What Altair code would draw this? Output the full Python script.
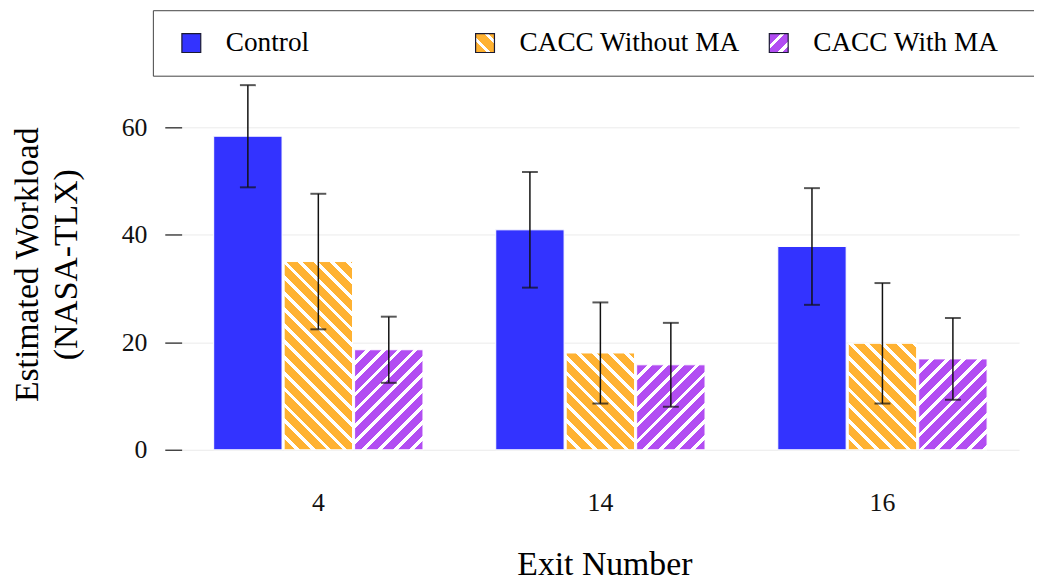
import json
import altair as alt
import pandas as pd

# ---------------- data ----------------
exits = ["4", "14", "16"]
series = ["Control", "CACC Without MA", "CACC With MA"]
control_mean = [58.3, 40.9, 37.8]
control_err = [9.5, 10.75, 10.85]
without_mean = [35.0, 18.0, 19.8]
without_err = [12.6, 9.4, 11.2]
with_mean = [18.6, 15.8, 16.9]
with_err = [6.15, 7.8, 7.6]
y_ticks = [0, 20, 40, 60]

# ---------------- styles ----------------
BLUE, ORANGE, PURPLE = "#3333FF", "#FFB232", "#B24DF2"
WHITE = "#FFFFFF"
FONT = "Liberation Serif"
PLOT_W, PLOT_H, Y_MAX = 844, 374, 69
PAD_INNER, PAD_OUTER, SUB_PAD = 0.258, 0.1136, 0.03
HATCH_PERIOD, HATCH_WHITE = 16.0, 0.3
SYM = 19
TITLE_SIZE = 34

means = [control_mean, without_mean, with_mean]
errs = [control_err, without_err, with_err]
rows = []
for s, m_list, e_list in zip(series, means, errs):
    for e, m, er in zip(exits, m_list, e_list):
        rows.append({"exit": e, "series": s, "mean": m, "lo": m - er, "hi": m + er})
df = pd.DataFrame(rows)

# pixel size of one bar (used only to orient the hatching gradient)
step = PLOT_W / (len(exits) - PAD_INNER + 2 * PAD_OUTER)
band = step * (1 - PAD_INNER)
sub_step = band / (len(series) - SUB_PAD)
bar_w = sub_step * (1 - SUB_PAD)


def hatch(color, w, h, direction):
    total = w + h
    pts = []
    k = 0
    while k * HATCH_PERIOD < total:
        a = k * HATCH_PERIOD
        b = a + HATCH_PERIOD * (1 - HATCH_WHITE)
        c = a + HATCH_PERIOD
        pts += [(a, color), (min(b, total), color)]
        if b < total:
            pts += [(b, WHITE), (min(c, total), WHITE)]
        k += 1
    stops = [{"offset": round(s / total, 5), "color": col} for s, col in pts]
    kk = (w + h) / (w * w + h * h)
    if direction == "/":
        x1, y1, x2, y2 = 0, 0, kk * w, kk * h
    else:
        x1, y1, x2, y2 = 0, 1, kk * w, 1 - kk * h
    return {"gradient": "linear", "x1": round(x1, 5), "y1": round(y1, 5),
            "x2": round(x2, 5), "y2": round(y2, 5), "stops": stops}


hatch_info = {series[1]: (ORANGE, "\\"), series[2]: (PURPLE, "/")}
conds = []
for s in series[1:]:
    col, d = hatch_info[s]
    for e, m in zip(exits, df[df.series == s]["mean"]):
        h = m / Y_MAX * PLOT_H
        conds.append({"test": f"datum.series === '{s}' && datum.exit === '{e}'",
                      "value": hatch(col, bar_w, h, d)})

legend_range = [BLUE] + [
    {"expr": json.dumps(hatch(hatch_info[s][0], SYM, SYM, hatch_info[s][1]))}
    for s in series[1:]
]

x_enc = alt.X(
    "exit:N", sort=exits,
    scale=alt.Scale(paddingInner=PAD_INNER, paddingOuter=PAD_OUTER),
    axis=alt.Axis(labelAngle=0, labelFont=FONT, labelFontSize=26, labelColor="#111",
                  labelPadding=40, ticks=False, tickSize=0, domain=False, grid=False,
                  title="Exit Number", titleFont=FONT, titleFontSize=TITLE_SIZE,
                  titleFontWeight="normal", titleColor="#000", titleY=99,
                  titleX=PLOT_W / 2 + 4),
)
xo_enc = alt.XOffset("series:N", sort=series,
                     scale=alt.Scale(paddingInner=SUB_PAD, paddingOuter=0))
y_scale = alt.Scale(domain=[0, Y_MAX], nice=False)
y_enc = alt.Y(
    "mean:Q", scale=y_scale,
    axis=alt.Axis(values=y_ticks, labelFont=FONT, labelFontSize=26, labelColor="#111",
                  labelPadding=18, tickSize=17, tickColor="#444", tickWidth=1.5,
                  domain=False, grid=True, gridColor="#EBEBEB", gridWidth=1,
                  title=["Estimated Workload", "(NASA-TLX)"], titleFont=FONT,
                  titleFontSize=TITLE_SIZE, titleFontWeight="normal", titleColor="#000",
                  titleLineHeight=39, titleX=-138, titleY=PLOT_H / 2,
                  titleAngle=270, titleBaseline="bottom", titleAlign="center"),
)

base = alt.Chart(df)

# The legend carries a short white (invisible) filler title on its right, so that
# its frame runs on past the right edge of the picture, as in the reference.
legend_layer = base.transform_filter("false").mark_bar().encode(
    x=x_enc, xOffset=xo_enc, y=y_enc,
    fill=alt.Fill(
        "series:N",
        scale=alt.Scale(domain=series, range=legend_range),
        legend=alt.Legend(
            title="MM", titleOrient="right", titleColor="white",
            titleFont=FONT, titleFontSize=18, titlePadding=6,
            orient="none", legendX=-29, legendY=-69,
            direction="horizontal", columns=3, gridAlign="all", columnPadding=19,
            padding=19, strokeColor="#444", fillColor="white",
            symbolType="square", symbolSize=SYM * SYM, symbolStrokeColor="#1a1a33",
            symbolStrokeWidth=1.2, symbolOffset=6, labelOffset=21,
            labelFont=FONT, labelFontSize=27.5, labelColor="#000", labelLimit=600,
        ),
    ),
)

bars = base.mark_bar(stroke="white", strokeWidth=1).encode(
    x=x_enc, xOffset=xo_enc, y=y_enc,
    fill={"value": BLUE, "condition": conds},
)

rules = base.mark_rule(color="#111", strokeWidth=1.5).encode(
    x=x_enc, xOffset=xo_enc, y=alt.Y("lo:Q", scale=y_scale), y2="hi:Q"
)
cap_lo = base.mark_tick(color="#111", thickness=2, size=16).encode(
    x=x_enc, xOffset=xo_enc, y=alt.Y("lo:Q", scale=y_scale)
)
cap_hi = base.mark_tick(color="#111", thickness=2, size=16).encode(
    x=x_enc, xOffset=xo_enc, y=alt.Y("hi:Q", scale=y_scale)
)

chart = alt.layer(legend_layer, bars, rules, cap_lo, cap_hi).properties(
    width=PLOT_W, height=PLOT_H,
    autosize=alt.AutoSizeParams(type="none"),
    padding={"left": 175, "top": 69, "right": 15, "bottom": 130},
    background="white",
).configure(font=FONT).configure_view(stroke=None)

chart.save("out.html", embed_options={"renderer": "svg", "actions": False})
